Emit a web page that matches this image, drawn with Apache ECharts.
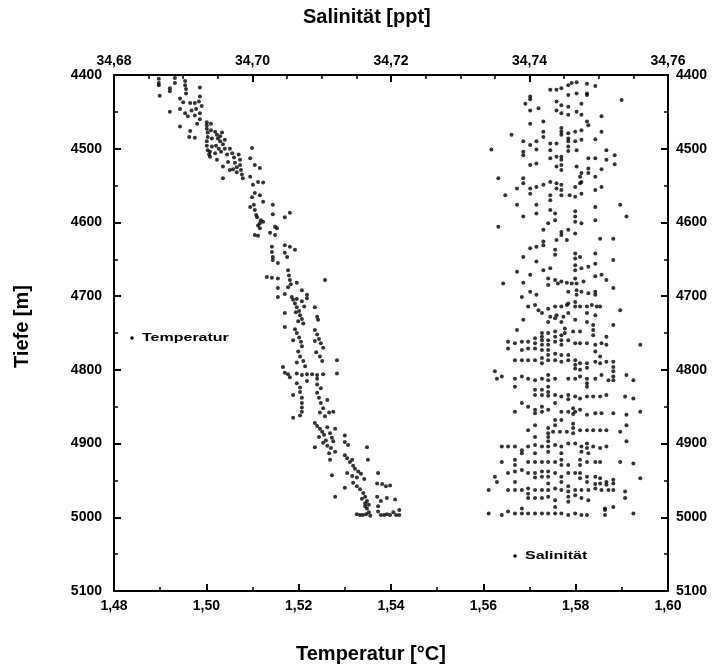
<!DOCTYPE html>
<html><head><meta charset="utf-8">
<script src="https://cdn.jsdelivr.net/npm/echarts@6/dist/echarts.min.js"></script>
<style>html,body{margin:0;padding:0;background:#fff}#c{width:719px;height:671px}</style>
</head><body><div id="c"></div><script>
const tempTickLabels = ['1,48','1,50','1,52','1,54','1,56','1,58','1,60'];
const salTickLabels = ['34,68','34,70','34,72','34,74','34,76'];
const depthTickLabels = ['4400','4500','4600','4700','4800','4900','5000','5100'];
const legendNames = ['Temperatur', 'Salinität'];

const tempData = [
[1.4897,4405],[1.4897,4411],[1.4897,4414],[1.4899,4428],[1.4921,4418],[1.4921,4422],[1.4932,4404],[1.4932,4411],[1.4954,4408],[1.4954,4414],[1.4956,4419],[1.4956,4425],[1.4986,4417],[1.4986,4429],[1.4943,4432],[1.4950,4437],[1.4965,4438],[1.4975,4438],[1.4984,4436],[1.4990,4442],
[1.4921,4450],[1.4943,4446],[1.4954,4452],[1.4960,4456],[1.4968,4448],[1.4978,4446],[1.4975,4455],[1.4986,4452],[1.4986,4460],[1.4943,4470],[1.4965,4476],[1.4963,4484],[1.4975,4485],[1.4980,4466],
[1.5001,4464],[1.5001,4468],[1.5001,4473],[1.5003,4478],[1.5003,4484],[1.5001,4490],[1.5001,4496],[1.5003,4502],[1.5006,4508],[1.5010,4466],[1.5010,4475],[1.5012,4486],[1.5012,4497],[1.5008,4504],
[1.5019,4477],[1.5023,4481],[1.5025,4486],[1.5030,4483],[1.5030,4490],[1.5034,4478],[1.5036,4494],[1.5040,4488],[1.5021,4496],[1.5027,4500],[1.5019,4506],[1.5032,4504],[1.5040,4500],[1.5045,4508],[1.5008,4511],[1.5023,4515],
[1.5051,4500],[1.5056,4506],[1.5060,4512],[1.5062,4519],[1.5066,4525],[1.5070,4508],[1.5073,4515],[1.5073,4522],[1.5075,4529],[1.5077,4535],[1.5079,4540],[1.5066,4532],[1.5047,4518],[1.5036,4524],[1.5058,4528],[1.5051,4529],[1.5036,4540],
[1.5099,4499],[1.5095,4513],[1.5105,4522],[1.5116,4526],[1.5095,4538],[1.5101,4549],[1.5112,4545],[1.5123,4546],
[1.5105,4560],[1.5116,4563],[1.5123,4572],[1.5099,4566],[1.5103,4576],[1.5105,4583],[1.5108,4590],
[1.5095,4579],[1.5110,4593],[1.5123,4599],[1.5112,4604],
[1.5144,4576],[1.5144,4589],[1.5170,4593],[1.5181,4587],[1.5149,4606],
[1.5116,4601],[1.5118,4597],[1.5116,4608],[1.5105,4617],[1.5112,4618],[1.5138,4614],[1.5153,4608],[1.5149,4617],
[1.5142,4633],[1.5142,4640],[1.5144,4647],[1.5144,4651],[1.5170,4631],[1.5181,4633],[1.5192,4637],[1.5170,4641],[1.5175,4647],[1.5155,4655],
[1.5131,4674],[1.5142,4675],[1.5155,4676],[1.5177,4665],[1.5179,4672],[1.5181,4678],[1.5183,4684],[1.5177,4688],[1.5257,4678],[1.5196,4682],[1.5207,4692],[1.5218,4698],[1.5155,4689],[1.5155,4701],
[1.5170,4697],[1.5185,4701],[1.5196,4704],[1.5207,4707],[1.5218,4703],
[1.5188,4705],[1.5192,4710],[1.5196,4715],[1.5201,4720],[1.5203,4726],[1.5207,4731],[1.5210,4737],[1.5194,4722],[1.5199,4734],[1.5212,4714],
[1.5235,4715],[1.5170,4723],[1.5170,4742],[1.5240,4728],[1.5242,4732],
[1.5192,4745],[1.5196,4750],[1.5201,4756],[1.5205,4762],[1.5207,4768],[1.5199,4775],[1.5203,4782],[1.5210,4788],[1.5214,4795],[1.5188,4760],[1.5196,4790],
[1.5235,4746],[1.5240,4752],[1.5244,4758],[1.5248,4764],[1.5253,4770],[1.5238,4776],[1.5246,4782],[1.5251,4788],[1.5235,4761],
[1.5283,4787],[1.5166,4796],
[1.5170,4804],[1.5177,4806],[1.5196,4805],[1.5207,4807],[1.5218,4806],[1.5229,4806],[1.5240,4807],[1.5253,4806],[1.5283,4805],[1.5181,4810],[1.5240,4812],
[1.5196,4818],[1.5203,4824],[1.5240,4820],[1.5248,4825],[1.5218,4815],
[1.5188,4834],[1.5203,4830],[1.5207,4838],[1.5207,4845],[1.5207,4851],[1.5207,4857],[1.5203,4862],
[1.5240,4831],[1.5244,4838],[1.5248,4845],[1.5253,4852],[1.5246,4858],[1.5257,4863],[1.5262,4841],[1.5266,4858],[1.5275,4857],[1.5188,4865],
[1.5235,4872],[1.5240,4876],[1.5246,4880],[1.5251,4884],[1.5255,4888],[1.5262,4878],[1.5268,4886],[1.5272,4892],[1.5279,4880],[1.5244,4891],[1.5259,4896],[1.5300,4889],
[1.5235,4905],[1.5253,4899],[1.5262,4903],[1.5270,4906],[1.5279,4911],[1.5266,4913],[1.5275,4897],[1.5300,4898],[1.5307,4902],[1.5348,4905],
[1.5268,4922],[1.5272,4943],[1.5300,4916],[1.5305,4920],[1.5311,4925],[1.5318,4930],[1.5322,4934],[1.5329,4938],[1.5316,4922],[1.5350,4922],
[1.5305,4940],[1.5316,4944],[1.5326,4946],[1.5335,4941],[1.5342,4948],[1.5372,4940],[1.5300,4960],
[1.5318,4953],[1.5326,4958],[1.5333,4962],[1.5340,4967],[1.5344,4972],[1.5348,4978],[1.5352,4983],[1.5337,4975],[1.5344,4985],
[1.5370,4954],[1.5381,4955],[1.5389,4958],[1.5398,4957],[1.5370,4972],[1.5391,4974],[1.5378,4978],[1.5279,4972],[1.5409,4976],
[1.5344,4981],[1.5348,4988],[1.5352,4993],[1.5355,4998],[1.5326,4996],[1.5333,4997],[1.5339,4997],[1.5346,4996],
[1.5372,4985],[1.5372,4992],[1.5378,4997],[1.5385,4997],[1.5391,4996],[1.5398,4997],[1.5405,4993],[1.5411,4997],[1.5418,4990],[1.5418,4997]
];

const salData = [
[34.7401,4429],[34.7401,4433],[34.7430,4420],[34.7439,4420],[34.7446,4418],[34.7456,4414],[34.7461,4411],[34.7468,4410],[34.7483,4412],[34.7495,4415],[34.7483,4425],[34.7483,4427],
[34.7456,4427],[34.7468,4425],[34.7533,4434],[34.7394,4439],[34.7413,4445],[34.7401,4448],
[34.7439,4436],[34.7446,4441],[34.7456,4443],[34.7475,4439],[34.7439,4448],[34.7446,4452],[34.7456,4454],[34.7468,4450],[34.7475,4454],
[34.7504,4456],[34.7483,4463],[34.7485,4468],[34.7420,4463],[34.7401,4466],
[34.7374,4481],[34.7420,4477],[34.7420,4484],[34.7391,4490],[34.7401,4495],[34.7410,4490],[34.7446,4472],[34.7446,4477],[34.7446,4481],[34.7456,4479],[34.7456,4486],[34.7456,4490],[34.7466,4477],[34.7475,4475],[34.7475,4488],[34.7466,4490],[34.7495,4487],[34.7504,4477],
[34.7345,4501],[34.7391,4504],[34.7391,4509],[34.7410,4501],[34.7430,4493],[34.7439,4493],[34.7430,4502],[34.7456,4497],[34.7456,4503],[34.7468,4502],[34.7511,4502],[34.7523,4509],[34.7511,4515],[34.7523,4521],
[34.7401,4522],[34.7410,4520],[34.7430,4513],[34.7439,4511],[34.7446,4511],[34.7446,4515],[34.7439,4524],[34.7446,4522],[34.7446,4529],[34.7468,4524],[34.7485,4513],[34.7495,4513],[34.7485,4527],[34.7495,4538],[34.7504,4528],[34.7485,4533],[34.7475,4533],[34.7473,4538],
[34.7355,4540],[34.7391,4540],[34.7391,4547],[34.7382,4554],[34.7401,4554],[34.7401,4561],[34.7410,4552],[34.7420,4549],[34.7430,4545],[34.7439,4547],[34.7439,4554],[34.7446,4549],[34.7446,4556],[34.7466,4552],[34.7473,4547],[34.7475,4545],[34.7495,4556],[34.7504,4552],
[34.7365,4563],[34.7382,4576],[34.7410,4576],[34.7430,4563],[34.7430,4570],[34.7446,4563],[34.7458,4563],[34.7466,4565],[34.7475,4561],[34.7531,4576],
[34.7391,4592],[34.7410,4588],[34.7430,4583],[34.7437,4588],[34.7437,4597],[34.7466,4585],[34.7466,4592],[34.7466,4599],[34.7475,4601],[34.7495,4579],[34.7495,4597],[34.7540,4592],
[34.7355,4606],[34.7420,4610],[34.7427,4601],[34.7446,4613],[34.7446,4617],[34.7456,4610],[34.7466,4615],[34.7439,4624],[34.7454,4624],[34.7502,4622],[34.7521,4622],
[34.7401,4635],[34.7410,4633],[34.7420,4631],[34.7420,4626],[34.7437,4637],[34.7437,4644],[34.7391,4647],[34.7466,4642],[34.7466,4649],[34.7473,4647],[34.7495,4642],[34.7521,4651],
[34.7410,4653],[34.7382,4667],[34.7401,4671],[34.7420,4665],[34.7430,4662],[34.7466,4658],[34.7466,4665],[34.7475,4662],[34.7485,4660],[34.7495,4656],[34.7427,4676],[34.7437,4678],[34.7446,4680],[34.7466,4676],[34.7495,4673],[34.7504,4671],[34.7511,4678],[34.7362,4683],[34.7391,4682],
[34.7427,4685],[34.7441,4683],[34.7454,4682],[34.7461,4683],[34.7468,4683],[34.7478,4680],[34.7521,4689],
[34.7389,4701],[34.7401,4694],[34.7410,4698],[34.7456,4694],[34.7468,4692],[34.7468,4698],[34.7475,4694],[34.7485,4696],[34.7495,4694],[34.7495,4698],
[34.7398,4714],[34.7408,4712],[34.7413,4719],[34.7427,4717],[34.7437,4714],[34.7446,4714],[34.7454,4712],[34.7456,4710],[34.7466,4708],[34.7466,4714],[34.7473,4714],[34.7483,4714],[34.7490,4712],[34.7497,4714],[34.7502,4714],[34.7531,4719],
[34.7418,4723],[34.7430,4728],[34.7439,4726],[34.7449,4728],[34.7456,4723],[34.7483,4723],[34.7495,4726],
[34.7391,4732],[34.7427,4735],[34.7437,4730],[34.7446,4735],[34.7466,4732],[34.7483,4735],[34.7492,4739],[34.7521,4739],
[34.7382,4746],[34.7418,4750],[34.7427,4750],[34.7437,4748],[34.7451,4744],[34.7451,4750],[34.7463,4748],[34.7473,4748],[34.7492,4746],[34.7492,4753],[34.7511,4755],
[34.7418,4755],[34.7418,4760],[34.7418,4766],[34.7418,4773],[34.7408,4757],[34.7408,4764],[34.7408,4771],[34.7427,4760],[34.7427,4766],[34.7427,4773],[34.7437,4755],[34.7437,4762],[34.7446,4753],[34.7446,4760],[34.7446,4766],[34.7456,4760],[34.7466,4764],[34.7473,4764],[34.7483,4764],[34.7495,4766],[34.7504,4764],[34.7511,4766],[34.7560,4766],[34.7369,4762],[34.7369,4771],[34.7379,4764],[34.7389,4762],[34.7398,4762],[34.7398,4771],
[34.7389,4773],[34.7427,4780],[34.7437,4778],[34.7446,4780],[34.7456,4780],[34.7495,4775],[34.7502,4782],
[34.7379,4787],[34.7389,4787],[34.7398,4787],[34.7408,4787],[34.7418,4784],[34.7418,4791],[34.7427,4787],[34.7437,4787],[34.7446,4789],[34.7456,4787],[34.7466,4787],[34.7466,4793],[34.7466,4798],[34.7473,4791],[34.7483,4791],[34.7483,4797],[34.7495,4789],[34.7502,4791],[34.7511,4789],[34.7521,4789],[34.7521,4796],[34.7521,4802],[34.7473,4800],
[34.7350,4802],[34.7353,4812],[34.7360,4809],[34.7379,4812],[34.7389,4809],[34.7398,4812],[34.7408,4814],[34.7418,4812],[34.7427,4807],[34.7427,4814],[34.7437,4812],[34.7456,4812],[34.7466,4812],[34.7473,4809],[34.7483,4812],[34.7495,4812],[34.7504,4807],[34.7514,4814],[34.7521,4809],[34.7521,4814],[34.7540,4807],[34.7550,4814],[34.7483,4818],[34.7483,4823],
[34.7379,4823],[34.7427,4823],[34.7427,4830],[34.7408,4827],[34.7408,4834],[34.7418,4827],[34.7418,4834],[34.7427,4835],[34.7437,4834],[34.7446,4836],[34.7456,4834],[34.7456,4840],[34.7466,4836],[34.7473,4839],[34.7483,4836],[34.7492,4836],[34.7502,4836],[34.7511,4834],[34.7538,4836],[34.7550,4839],
[34.7389,4845],[34.7398,4850],[34.7408,4854],[34.7408,4859],[34.7418,4850],[34.7418,4857],[34.7427,4854],[34.7437,4845],[34.7446,4857],[34.7456,4857],[34.7466,4857],[34.7473,4854],[34.7483,4861],[34.7495,4859],[34.7504,4859],[34.7521,4859],[34.7540,4861],[34.7560,4857],[34.7379,4857],[34.7463,4852],[34.7463,4860],
[34.7437,4868],[34.7437,4875],[34.7446,4868],[34.7408,4875],[34.7398,4882],[34.7427,4879],[34.7427,4886],[34.7427,4891],[34.7434,4884],[34.7444,4884],[34.7454,4884],[34.7463,4873],[34.7463,4879],[34.7463,4886],[34.7473,4882],[34.7483,4882],[34.7492,4882],[34.7502,4882],[34.7511,4882],[34.7531,4884],[34.7540,4875],[34.7408,4891],
[34.7360,4904],[34.7369,4904],[34.7379,4904],[34.7389,4909],[34.7398,4904],[34.7408,4902],[34.7418,4904],[34.7427,4897],[34.7427,4904],[34.7437,4902],[34.7446,4904],[34.7456,4900],[34.7466,4900],[34.7475,4904],[34.7483,4900],[34.7483,4906],[34.7492,4904],[34.7502,4906],[34.7511,4904],[34.7540,4897],
[34.7389,4913],[34.7408,4913],[34.7427,4911],[34.7446,4913],[34.7475,4911],[34.7485,4913],
[34.7360,4925],[34.7379,4922],[34.7379,4929],[34.7398,4925],[34.7408,4925],[34.7418,4925],[34.7427,4925],[34.7437,4925],[34.7446,4922],[34.7446,4929],[34.7456,4929],[34.7473,4922],[34.7473,4929],[34.7483,4925],[34.7495,4925],[34.7502,4925],[34.7531,4925],[34.7550,4927],
[34.7350,4945],[34.7353,4952],[34.7369,4940],[34.7379,4938],[34.7389,4936],[34.7398,4940],[34.7408,4940],[34.7408,4946],[34.7418,4938],[34.7418,4945],[34.7427,4938],[34.7427,4945],[34.7437,4940],[34.7446,4945],[34.7456,4940],[34.7466,4940],[34.7473,4940],[34.7473,4947],[34.7483,4945],[34.7495,4945],[34.7502,4947],[34.7511,4952],[34.7521,4949],[34.7560,4947],
[34.7379,4952],[34.7427,4954],[34.7446,4952],[34.7483,4952],[34.7495,4955],[34.7502,4954],[34.7511,4956],[34.7521,4954],
[34.7341,4963],[34.7369,4963],[34.7379,4963],[34.7389,4963],[34.7398,4961],[34.7398,4968],[34.7408,4963],[34.7418,4963],[34.7427,4963],[34.7437,4961],[34.7446,4963],[34.7456,4958],[34.7456,4965],[34.7456,4972],[34.7456,4979],[34.7466,4963],[34.7466,4970],[34.7475,4963],[34.7485,4963],[34.7495,4961],[34.7504,4963],[34.7514,4963],[34.7521,4963],[34.7538,4965],
[34.7398,4974],[34.7408,4974],[34.7418,4974],[34.7427,4972],[34.7437,4977],[34.7475,4974],[34.7485,4977],[34.7538,4974],
[34.7341,4995],[34.7360,4997],[34.7369,4992],[34.7379,4995],[34.7389,4988],[34.7389,4995],[34.7398,4995],[34.7408,4995],[34.7418,4995],[34.7427,4995],[34.7437,4986],[34.7437,4995],[34.7446,4995],[34.7456,4997],[34.7466,4995],[34.7475,4997],[34.7483,4997],[34.7509,4988],[34.7509,4990],[34.7509,4997],[34.7521,4986],[34.7550,4995]
];

const FONT = '"Liberation Sans", Arial, sans-serif';
const lineStyle = { color: '#000', width: 2 };
const labelStyle = { color: '#000', fontFamily: FONT, fontWeight: 'bold', fontSize: 14 };
function idx(v, min, step) { return Math.round((v - min) / step); }
function legendItem(name, x, y) {
  return { type: 'group', x: x, y: y, children: [
    { type: 'circle', shape: { cx: 0, cy: 0, r: 1.8 }, style: { fill: '#000' } },
    { type: 'text', x: 10, y: 0, scaleX: 1.6, style: { text: name, fill: '#000', font: 'bold 10px ' + FONT, verticalAlign: 'middle' } }
  ]};
}

const chart = echarts.init(document.getElementById('c'), null, { renderer: 'canvas' });
chart.setOption({
  animation: false,
  backgroundColor: '#fff',
  grid: { left: 114, right: 51, top: 75, bottom: 80 },
  xAxis: [
    { type: 'value', position: 'bottom', min: 1.48, max: 1.60, interval: 0.02,
      axisLine: { show: true, onZero: false, lineStyle }, splitLine: { show: false },
      axisTick: { inside: true, length: 7, lineStyle },
      minorTick: { show: true, splitNumber: 2, length: 4, lineStyle: { color: '#000', width: 1.5 } },
      axisLabel: Object.assign({ margin: 8, formatter: v => tempTickLabels[idx(v, 1.48, 0.02)] }, labelStyle) },
    { type: 'value', position: 'top', min: 34.68, max: 34.76, interval: 0.02,
      axisLine: { show: true, onZero: false, lineStyle }, splitLine: { show: false },
      axisTick: { inside: true, length: 7, lineStyle },
      minorTick: { show: true, splitNumber: 4, length: 4, lineStyle: { color: '#000', width: 1.5 } },
      axisLabel: Object.assign({ margin: 7, formatter: v => salTickLabels[idx(v, 34.68, 0.02)] }, labelStyle) }
  ],
  yAxis: [
    { type: 'value', position: 'left', inverse: true, min: 4400, max: 5100, interval: 100,
      axisLine: { show: true, onZero: false, lineStyle }, splitLine: { show: false },
      axisTick: { inside: true, length: 7, lineStyle },
      minorTick: { show: true, splitNumber: 2, length: 4, lineStyle: { color: '#000', width: 1.5 } },
      axisLabel: Object.assign({ margin: 12, formatter: v => depthTickLabels[idx(v, 4400, 100)] }, labelStyle) },
    { type: 'value', position: 'right', inverse: true, min: 4400, max: 5100, interval: 100,
      axisLine: { show: true, onZero: false, lineStyle }, splitLine: { show: false },
      axisTick: { inside: true, length: 7, lineStyle },
      minorTick: { show: true, splitNumber: 2, length: 4, lineStyle: { color: '#000', width: 1.5 } },
      axisLabel: Object.assign({ margin: 8, formatter: v => depthTickLabels[idx(v, 4400, 100)] }, labelStyle) }
  ],
  series: [
    { name: legendNames[0], type: 'scatter', xAxisIndex: 0, yAxisIndex: 0, data: tempData,
      symbol: 'circle', symbolSize: 4, itemStyle: { color: '#000' } },
    { name: legendNames[1], type: 'scatter', xAxisIndex: 1, yAxisIndex: 0, data: salData,
      symbol: 'circle', symbolSize: 4, itemStyle: { color: '#000' } }
  ],
  graphic: [
    { type: 'text', left: 303, top: 7, style: { text: 'Salinität [ppt]', fill: '#000', font: 'bold 20px ' + FONT } },
    { type: 'text', left: 296, top: 644, style: { text: 'Temperatur [°C]', fill: '#000', font: 'bold 20px ' + FONT } },
    { type: 'text', x: 12, y: 368, rotation: Math.PI / 2, style: { text: 'Tiefe [m]', fill: '#000', font: 'bold 20px ' + FONT } },
    legendItem(legendNames[0], 132, 338),
    legendItem(legendNames[1], 515, 556)
  ]
});
</script></body></html>
